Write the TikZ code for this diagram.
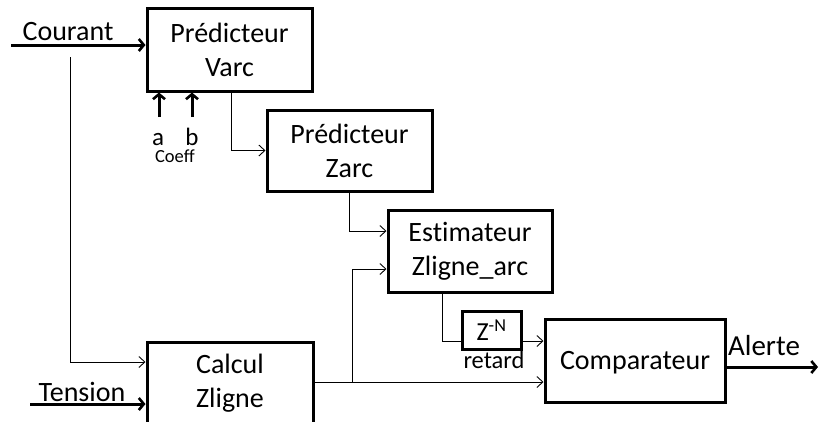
\documentclass[tikz,border=0pt]{standalone}
\usepackage{fontspec}
\setmainfont{Carlito}[Ligatures=NoCommon]
\usetikzlibrary{arrows.meta}
\begin{document}
\begin{tikzpicture}[x=1pt,y=-1pt,
  box/.style={draw, line width=3pt, align=center, inner sep=0pt,
    font=\fontsize{28}{34}\selectfont},
  thinline/.style={line width=0.9pt},
  thinarr/.style={line width=0.9pt, -{Straight Barb[length=6pt,width=11pt,line width=0.9pt]}},
  thickarr/.style={line width=3pt, -{Straight Barb[length=5pt,width=12pt,line width=2.6pt]}},
  lbl/.style={inner sep=0pt, anchor=base, font=\fontsize{28}{34}\selectfont},
]
\useasboundingbox (0,0) rectangle (819,421);
\clip (0,0) rectangle (819,421);

% blocks
\node[box, minimum width=165pt, minimum height=83pt] (varc) at (229.5,49.5) {Prédicteur\\Varc};
\node[box, minimum width=165pt, minimum height=81pt] (zarc) at (349.5,150.5) {Prédicteur\\Zarc};
\node[box, minimum width=164pt, minimum height=82pt] (est) at (470,251) {Estimateur\\Zligne\_arc};
\node[box, minimum width=166pt, minimum height=83pt] (calc) at (230,383.5) {Calcul\\Zligne};
\node[box, minimum width=59pt, minimum height=38pt, font=\fontsize{26}{30}\selectfont] (zn) at (491.5,330) {Z\textsuperscript{-N}};
\node[box, minimum width=180pt, minimum height=83pt, text depth=0pt] (comp) at (635,360.5) {Comparateur};

% labels
\node[lbl] (courant) at (68,40) {Courant};
\node[lbl] (tension) at (82,401) {Tension};
\node[lbl, font=\fontsize{29}{34}\selectfont] (alerte) at (764,355) {Alerte};
\node[lbl, font=\fontsize{25}{28}\selectfont] (la) at (158,145) {a};
\node[lbl, font=\fontsize{25}{28}\selectfont] (lb) at (192,145) {b};
\node[lbl, font=\fontsize{18.5}{22}\selectfont] (coeff) at (175,162) {Coeff};
\node[lbl, font=\fontsize{24.5}{28}\selectfont] (retard) at (494,368) {retard};

% free ends and junctions
\coordinate (cin) at (11,45);
\coordinate (tin) at (30,404);
\coordinate (aout) at (818,367);
\coordinate (cv) at (70,57);
\coordinate (cvb) at (70,362);
\coordinate (ta) at (159,117);
\coordinate (tb) at (192,117);
\coordinate (j) at (352,382);
\coordinate (zl) at (442,341);

% thick inputs / output
\draw[thickarr] (cin) -- (cin -| varc.west);
\draw[thickarr] (tin) -- (tin -| calc.west);
\draw[thickarr] (comp.east |- aout) -- (aout);
\draw[thickarr] (ta) -- (ta |- varc.south);
\draw[thickarr] (tb) -- (tb |- varc.south);

% thin connectors
\draw[thinarr] (cv) -- (cvb) -- (cvb -| calc.west);
\draw[thinarr] ([xshift=1.5pt]varc.south) |- (zarc.west);
\draw[thinarr] (zarc.south) |- ([yshift=20pt]est.west);
\draw[thinarr] (calc.east |- j) -- (j) |- ([yshift=-18pt]est.west);
\draw[thinarr] (j) -- (comp.west |- j);
\draw[thinline] (est.south -| zl) -- (zl) -- (zl -| zn.west);
\draw[thinarr] (zn.east |- zl) -- (comp.west |- zl);
\end{tikzpicture}
\end{document}
